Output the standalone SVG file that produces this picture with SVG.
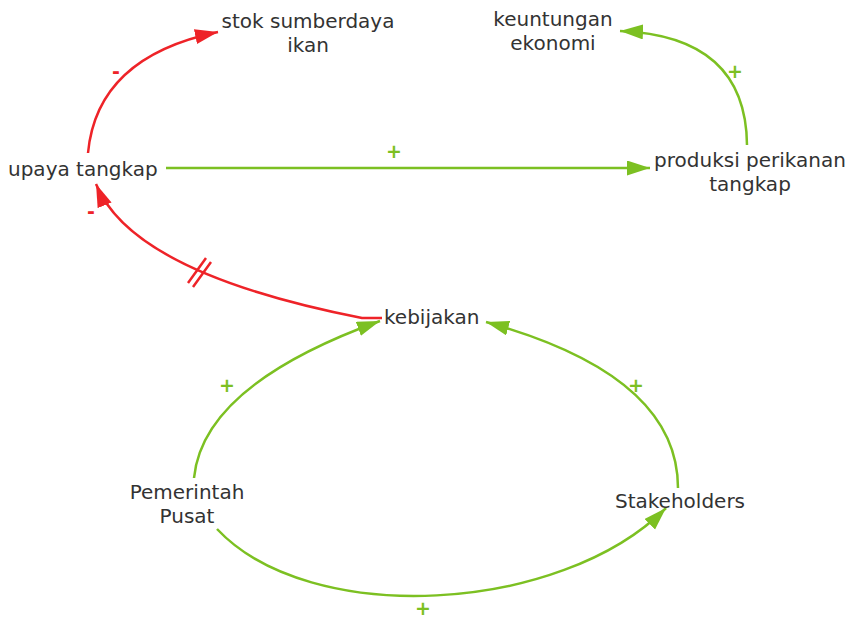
<svg xmlns="http://www.w3.org/2000/svg" width="850" height="622" viewBox="0 0 850 622">
  <style>
    .label { font-family: "DejaVu Sans", "Liberation Sans", sans-serif; font-size: 20px; fill: #333333; }
    .mid { text-anchor: middle; }
    .red { fill: none; stroke: #ee2328; stroke-width: 2.5; }
    .green { fill: none; stroke: #7cc022; stroke-width: 2.5; }
    .pol { font-family: "DejaVu Sans", "Liberation Sans", sans-serif; font-size: 19px; font-weight: bold; text-anchor: middle; }
    .pos { fill: #7cc022; }
    .neg { fill: #ee2328; }
  </style>
  <defs>
    <marker id="arrowRed" markerUnits="userSpaceOnUse" markerWidth="26" markerHeight="16" refX="23" refY="7.5" orient="auto">
      <path d="M0,0 L23,7.5 L0,15 z" fill="#ee2328"/>
    </marker>
    <marker id="arrowGreen" markerUnits="userSpaceOnUse" markerWidth="26" markerHeight="16" refX="23" refY="7.5" orient="auto">
      <path d="M0,0 L23,7.5 L0,15 z" fill="#7cc022"/>
    </marker>
  </defs>

  <rect width="850" height="622" fill="#ffffff"/>

  <g id="connectors">
    <!-- upaya tangkap -> stok sumberdaya ikan -->
    <path class="red" d="M88,153 Q97,57 218,32" marker-end="url(#arrowRed)"/>
    <!-- kebijakan -> upaya tangkap (with delay mark) -->
    <path class="red" d="M382,318 L362,318 Q132,273 96,184" marker-end="url(#arrowRed)"/>
    <path class="red" d="M188,283 L206,258 M193,287 L211,262" stroke-width="2"/>
    <!-- upaya tangkap -> produksi perikanan tangkap -->
    <path class="green" d="M166,168 L650,168" marker-end="url(#arrowGreen)"/>
    <!-- produksi perikanan tangkap -> keuntungan ekonomi -->
    <path class="green" d="M747,145 Q746,36 620,31" marker-end="url(#arrowGreen)"/>
    <!-- Pemerintah Pusat -> kebijakan -->
    <path class="green" d="M194,478 Q203,385 380,321" marker-end="url(#arrowGreen)"/>
    <!-- Stakeholders -> kebijakan -->
    <path class="green" d="M678,488 Q678,375 486,322" marker-end="url(#arrowGreen)"/>
    <!-- Pemerintah Pusat -> Stakeholders -->
    <path class="green" d="M217,529 C310,628 560,614 666,508" marker-end="url(#arrowGreen)"/>

    <!-- polarity signs -->
    <text class="pol neg" x="116" y="78">-</text>
    <text class="pol neg" x="91" y="218">-</text>
    <text class="pol pos" x="394" y="158">+</text>
    <text class="pol pos" x="735" y="78">+</text>
    <text class="pol pos" x="227" y="392">+</text>
    <text class="pol pos" x="636" y="392">+</text>
    <text class="pol pos" x="423" y="615">+</text>
  </g>

  <g id="stok">
    <text class="label mid" x="308" y="28">stok sumberdaya</text>
    <text class="label mid" x="308" y="52">ikan</text>
  </g>
  <g id="keuntungan">
    <text class="label mid" x="553" y="26">keuntungan</text>
    <text class="label mid" x="553" y="50">ekonomi</text>
  </g>
  <g id="upaya">
    <text class="label" x="8" y="176">upaya tangkap</text>
  </g>
  <g id="produksi">
    <text class="label mid" x="750" y="167">produksi perikanan</text>
    <text class="label mid" x="750" y="191">tangkap</text>
  </g>
  <g id="kebijakan">
    <text class="label" x="384" y="324">kebijakan</text>
  </g>
  <g id="pemerintah">
    <text class="label mid" x="187" y="499">Pemerintah</text>
    <text class="label mid" x="187" y="523">Pusat</text>
  </g>
  <g id="stakeholders">
    <text class="label mid" x="680" y="508">Stakeholders</text>
  </g>
</svg>
